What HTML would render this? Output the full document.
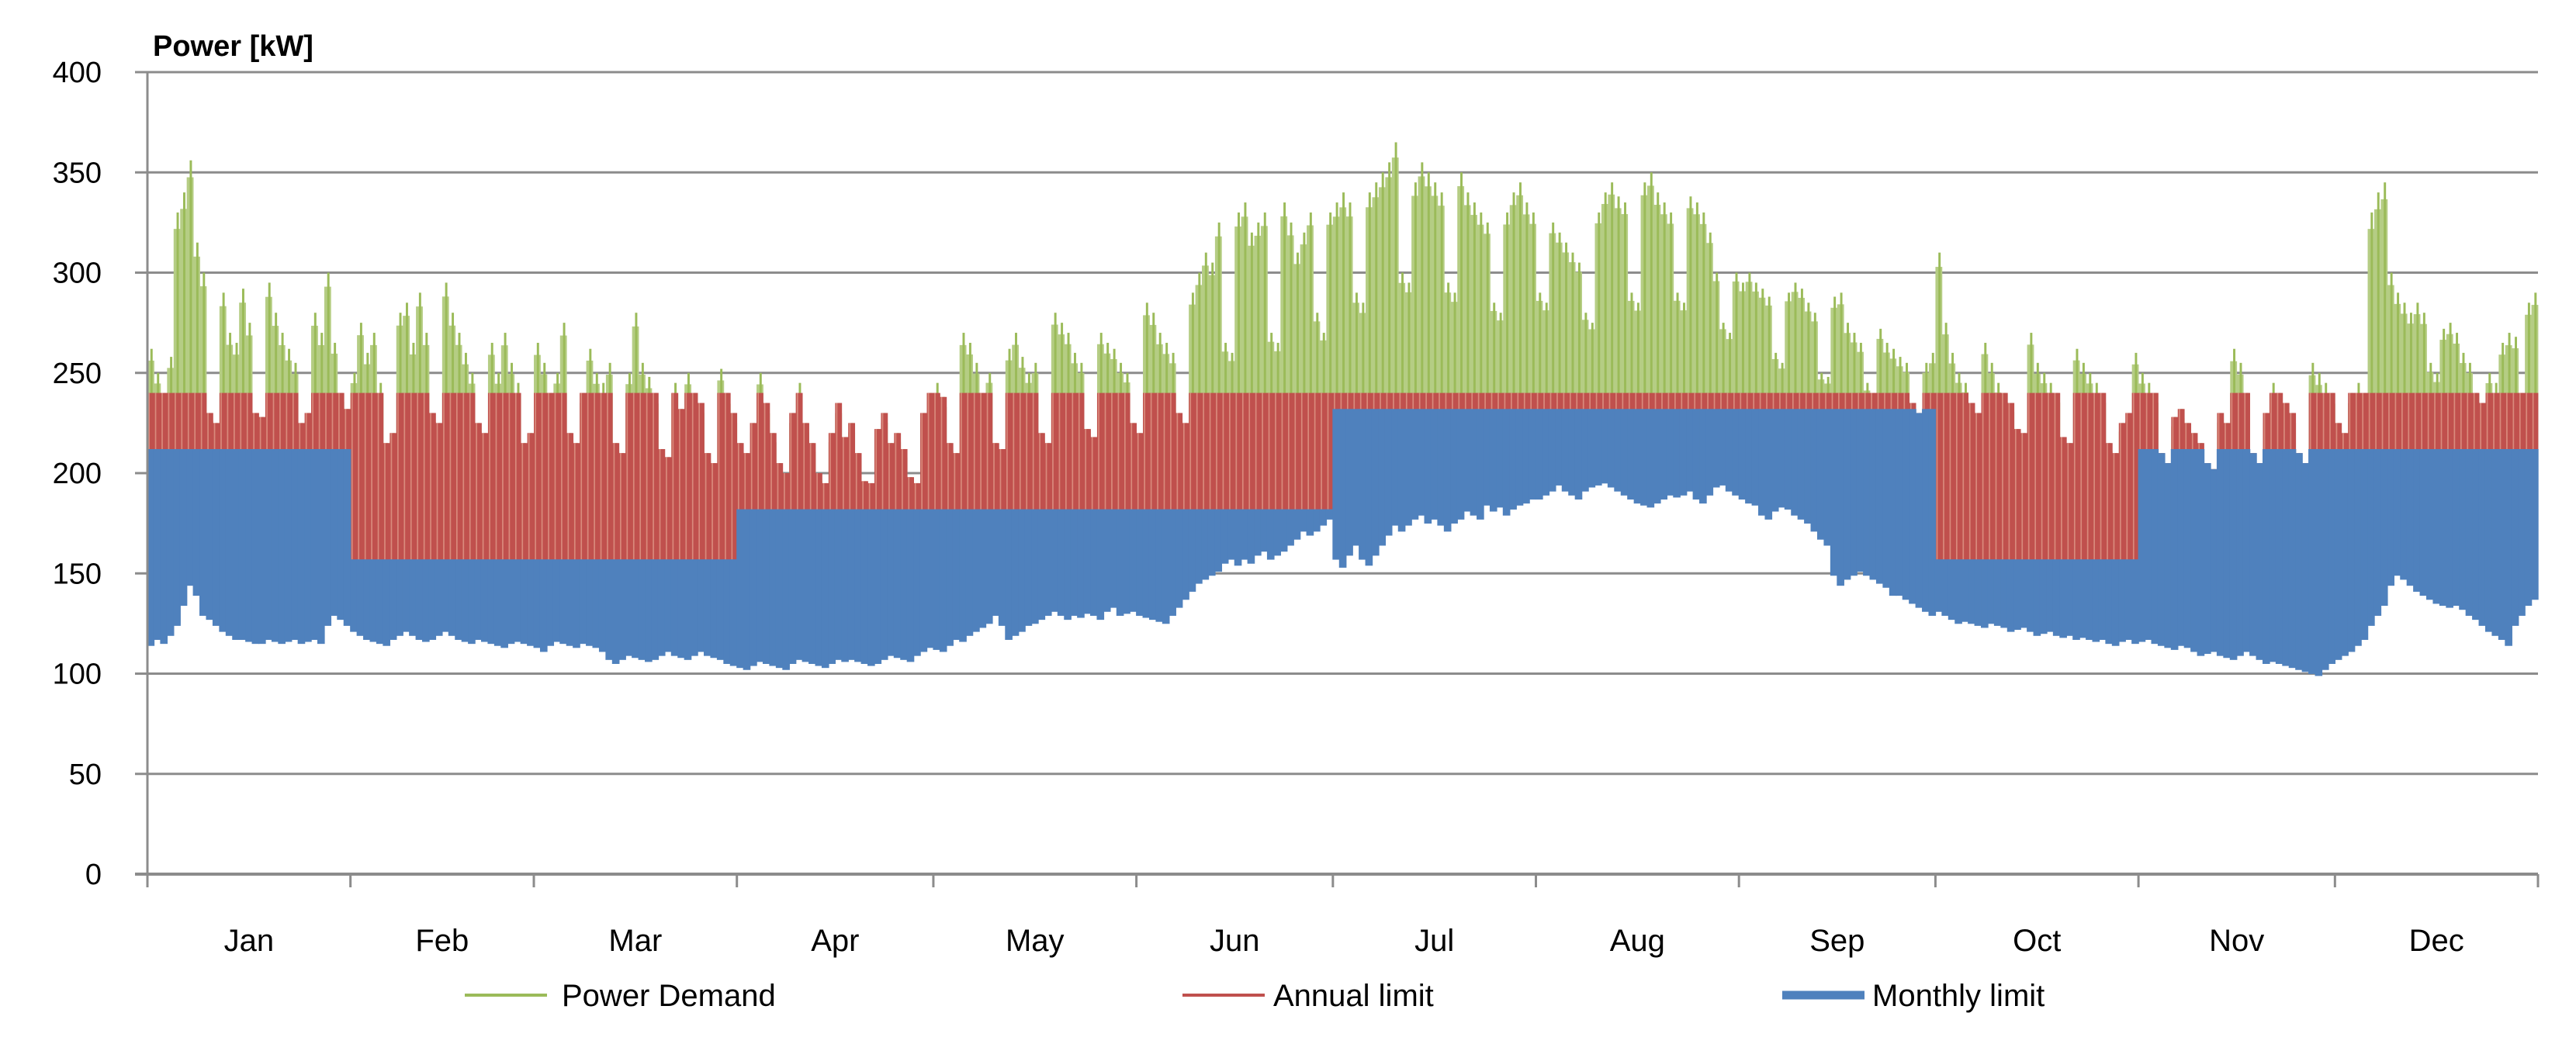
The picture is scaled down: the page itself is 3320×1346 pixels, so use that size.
<!DOCTYPE html>
<html><head><meta charset="utf-8"><style>
body{margin:0;background:#fff}
svg{display:block;font-family:"Liberation Sans",sans-serif}
</style></head><body>
<svg id="chart" width="3320" height="1346" viewBox="0 0 3320 1346" xmlns="http://www.w3.org/2000/svg">
<text x="197" y="72" font-size="38" font-weight="bold" fill="#000">Power [kW]</text>
<g id="grid"></g><g id="marks"></g><g id="axes"></g>
<g>
<line x1="599" y1="1283" x2="705" y2="1283" stroke="#9bbb59" stroke-width="4"/>
<text x="724" y="1297" font-size="40">Power Demand</text>
<line x1="1524" y1="1283" x2="1630" y2="1283" stroke="#c0504d" stroke-width="4"/>
<text x="1641" y="1297" font-size="40">Annual limit</text>
<line x1="2297" y1="1283" x2="2403" y2="1283" stroke="#4f81bd" stroke-width="11"/>
<text x="2413" y="1297" font-size="40">Monthly limit</text>
</g>
</svg>
<script>
const months=["Jan","Feb","Mar","Apr","May","Jun","Jul","Aug","Sep","Oct","Nov","Dec"];
const monthDays=[31,28,31,30,31,30,31,31,30,31,30,31];
const yTicks=[0,50,100,150,200,250,300,350,400];
const annualLimit=240;
const monthlyLimit=[212,157,157,182,182,182,232,232,232,157,212,212];
const dailyPeak=[
262,250,240,258,330,340,356,315,300,230,225,290,270,265,292,275,230,228,295,280,270,262,255,225,230,280,270,300,265,240,232,
250,275,260,270,245,215,220,280,285,265,290,270,230,225,295,280,270,260,250,225,220,265,250,270,255,245,215,220,
265,255,240,250,275,220,215,240,262,250,245,255,215,210,250,280,255,248,240,212,208,245,232,250,240,235,210,205,252,240,230,
215,210,225,250,235,220,205,200,230,245,225,215,200,195,220,235,218,225,210,196,195,222,230,215,220,212,198,195,230,240,
245,238,215,210,270,265,255,240,250,215,212,262,270,258,250,255,220,215,280,275,270,260,255,222,218,270,265,262,255,250,225,
220,285,280,270,265,260,230,225,290,300,310,305,325,265,260,330,335,320,325,330,270,265,335,325,310,320,330,280,270,330,
335,340,335,290,285,340,345,350,355,365,300,295,345,355,350,345,340,295,290,350,340,335,330,325,285,280,330,340,345,335,330,
290,285,325,320,315,310,305,280,275,330,340,345,338,335,290,285,345,350,340,335,330,290,285,338,335,330,320,300,275,270,300,
295,300,295,292,288,260,255,290,295,292,285,280,250,248,288,290,275,270,265,245,240,272,265,262,258,255,235,230,255,260,
310,275,260,250,245,235,230,265,255,245,240,235,222,220,270,255,250,245,240,218,215,262,255,250,245,240,215,210,225,230,260,
250,245,240,210,205,228,232,225,220,215,205,202,230,225,262,255,240,210,205,230,245,240,235,230,210,205,255,250,245,240,
225,220,240,245,240,330,340,345,300,290,285,280,285,280,255,250,272,275,270,260,255,240,235,250,245,265,270,268,240,285,290];
const dailyMin=[
115,118,116,120,125,135,145,140,130,128,125,122,120,118,118,117,116,116,118,117,116,117,118,116,117,118,116,125,130,128,125,
122,120,118,117,116,115,118,120,122,120,118,117,118,120,122,120,118,117,116,118,117,116,115,114,116,117,116,115,
114,112,115,117,116,115,114,116,115,114,112,108,106,108,110,109,108,107,108,110,112,110,109,108,110,112,110,109,108,106,105,
104,103,105,107,106,105,104,103,106,108,107,106,105,104,106,108,107,108,107,106,105,106,108,110,109,108,107,110,112,114,
113,112,115,118,117,120,122,124,126,130,125,118,120,122,125,126,128,130,132,130,128,130,129,131,130,128,132,134,130,131,132,
130,129,128,127,126,130,134,138,142,146,148,150,152,156,158,155,158,156,160,162,158,160,162,165,168,172,170,172,175,178,
158,154,160,165,158,155,160,165,170,175,172,175,178,180,176,178,175,172,176,178,182,180,178,185,182,184,180,183,185,186,188,
188,190,192,195,192,190,188,192,194,195,196,194,192,190,188,186,185,184,186,188,190,189,190,192,188,186,190,194,195,192,190,
188,186,185,180,178,182,184,183,180,178,176,172,168,165,150,145,148,150,152,150,148,146,144,140,140,138,136,134,132,130,
132,130,128,126,127,126,125,124,126,125,124,122,123,124,122,120,121,122,120,119,120,118,119,118,117,118,116,115,117,118,116,
117,118,116,115,114,113,115,114,112,110,111,112,110,109,108,110,112,110,108,106,107,106,105,104,103,102,101,100,103,106,
108,110,112,115,118,125,130,135,145,150,148,145,142,140,138,136,135,134,135,133,130,128,125,122,120,118,115,125,130,135,138];

const NS="http://www.w3.org/2000/svg";
const X0=190,X1=3271,Y0=1127,Y400=93;
const y=v=>Y0-(v/400)*(Y0-Y400);
const totalDays=monthDays.reduce((a,b)=>a+b,0);
const xd=d=>X0+(d/totalDays)*(X1-X0);
function mk(tag,attrs,parent){const e=document.createElementNS(NS,tag);for(const k in attrs)e.setAttribute(k,attrs[k]);parent.appendChild(e);return e;}
const grid=document.getElementById('grid'),marks=document.getElementById('marks'),axes=document.getElementById('axes');
yTicks.forEach(t=>{
  if(t>0){const l=mk('line',{x1:174,x2:X1,y1:y(t),y2:y(t),stroke:'#8c8c8c','stroke-width':3},grid);
  
  }
  const tx=mk('text',{x:131,y:y(t)+13,'font-size':38,'text-anchor':'end',fill:'#000'},axes);
  tx.textContent=t;
  
  
});
const dw=(X1-X0)/totalDays;
const gG=mk('g',{},marks);
const gR=mk('g',{},marks);
const gB=mk('g',{},marks);
let d=0;
monthDays.forEach((n,m)=>{
  for(let i=0;i<n;i++,d++){
    const pk=dailyPeak[d],mn=dailyMin[d],x=xd(d);
    const lf=pk*0.96+mn*0.04;
    const r1=mk('rect',{x:x,width:dw+0.4,y:y(lf),height:y(mn)-y(lf),fill:'#b5cd84'},gG);
    
    const r2=mk('rect',{x:x+dw*0.45,width:dw*0.35,y:y(pk),height:y(mn)-y(pk),fill:'#9bbb59'},gG);
    
    const ra=Math.min(pk,annualLimit);
    const r3=mk('rect',{x:x,width:dw+0.4,y:y(ra),height:y(mn)-y(ra),fill:'#c0504d'},gR);
    
    const r4=mk('rect',{x:x+dw*0.15,width:dw*0.2,y:y(ra),height:y(mn)-y(ra),fill:'#d98a7c'},gR);
    
    const mb=Math.min(pk,monthlyLimit[m]);
    const r5=mk('rect',{x:x-0.5,width:dw+1.2,y:y(mb),height:y(mn)-y(mb)+3,fill:'#4f81bd'},gB);
    
  }
});
const ax=mk('line',{x1:X0,x2:X0,y1:Y400,y2:Y0+17,stroke:'#8c8c8c','stroke-width':3},axes);

const bx=mk('line',{x1:174,x2:X1,y1:Y0,y2:Y0,stroke:'#8c8c8c','stroke-width':4},axes);

let cum=0;
months.forEach((mo,i)=>{
  const xs=xd(cum),xe=xd(cum+monthDays[i]);
  const tk=mk('line',{x1:xe,x2:xe,y1:Y0,y2:Y0+17,stroke:'#8c8c8c','stroke-width':3},axes);
  
  const t=mk('text',{x:(xs+xe)/2,y:1226,'font-size':40,'text-anchor':'middle',fill:'#000'},axes);
  t.textContent=mo;
  
  
  cum+=monthDays[i];
});
</script>
</body></html>
